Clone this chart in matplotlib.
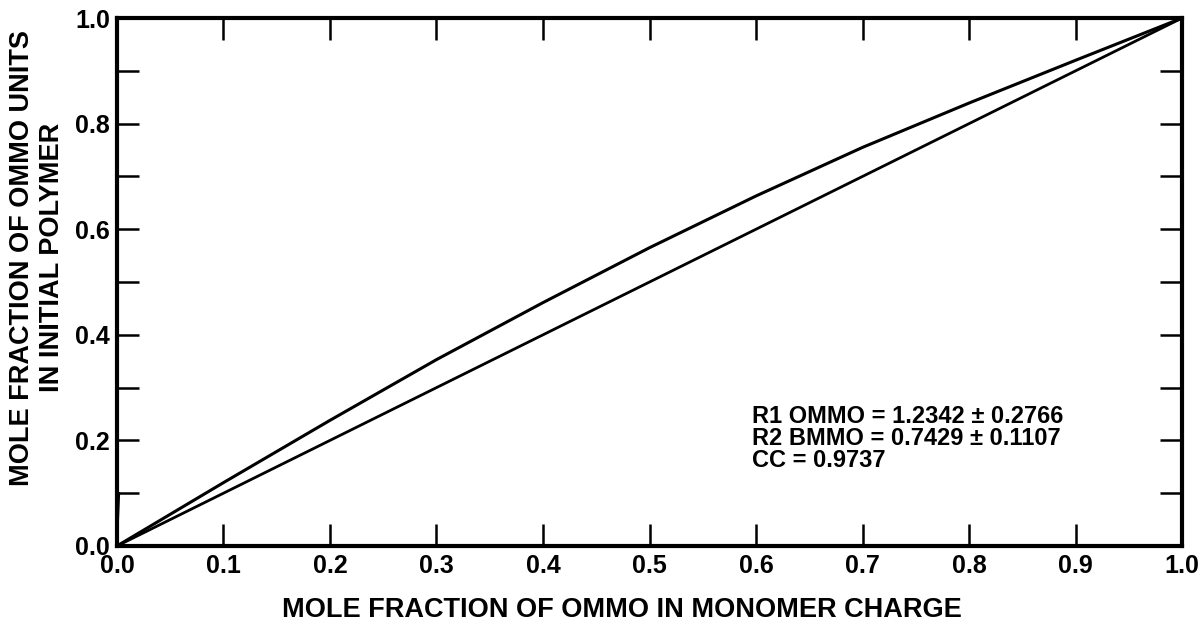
import matplotlib.pyplot as plt
import numpy as np

plt.rcParams['font.family'] = ['Liberation Sans', 'DejaVu Sans']
plt.rcParams['font.weight'] = 'bold'

# mole fraction of OMMO in monomer charge
charge = [0.0, 0.1, 0.2, 0.3, 0.4, 0.5, 0.6, 0.7, 0.8, 0.9, 1.0]
# fitted copolymer curve
polymer = [0.0, 0.12, 0.238, 0.353, 0.461, 0.565, 0.663, 0.755, 0.839, 0.92, 1.0]
# reference line (polymer = charge)
ideal_x = [0.0, 1.0]
ideal_y = [0.0, 1.0]
# small spike at the origin in the original plot
spike_x = [0.0, 0.002]
spike_y = [0.0, 0.1]

xticks = [0.0, 0.1, 0.2, 0.3, 0.4, 0.5, 0.6, 0.7, 0.8, 0.9, 1.0]
xticklabels = ['0.0', '0.1', '0.2', '0.3', '0.4', '0.5', '0.6', '0.7', '0.8', '0.9', '1.0']
yticks = [0.0, 0.2, 0.4, 0.6, 0.8, 1.0]
yticklabels = ['0.0', '0.2', '0.4', '0.6', '0.8', '1.0']
notes = ['R1 OMMO = 1.2342 \u00b1 0.2766',
         'R2 BMMO = 0.7429 \u00b1 0.1107',
         'CC = 0.9737']

fig = plt.figure(figsize=(12.02, 6.27), dpi=100)
ax = fig.add_axes([0.0973, 0.1292, 0.8861, 0.842])

ax.plot(charge, polymer, color='black', lw=2.2)
ax.plot(ideal_x, ideal_y, color='black', lw=2.0)
ax.plot(spike_x, spike_y, color='black', lw=1.5)

ax.set_xlim(0, 1)
ax.set_ylim(0, 1)
for s in ax.spines.values():
    s.set_linewidth(3)

minor = np.arange(0, 1.01, 0.1)
ax.set_xticks(xticks)
ax.set_xticklabels(xticklabels)
ax.set_yticks(minor, minor=True)
ax.set_yticks(yticks)
ax.set_yticklabels(yticklabels)
ax.tick_params(which='both', direction='in', length=16, width=1.8,
               top=True, right=True, labelsize=18, pad=6)
ax.tick_params(axis='y', pad=5)

for i, t in enumerate(notes):
    ax.text(0.596, 0.246 - i * 0.042, t, transform=ax.transAxes,
            fontsize=17, fontweight='bold', va='center', ha='left')

fig.text(0.517, 0.027, 'MOLE FRACTION OF OMMO IN MONOMER CHARGE',
         fontsize=19.5, fontweight='bold', ha='center', va='center')
fig.text(0.018, 0.589, 'MOLE FRACTION OF OMMO UNITS', rotation=90,
         fontsize=19.5, fontweight='bold', ha='center', va='center')
fig.text(0.043, 0.589, 'IN INITIAL POLYMER', rotation=90,
         fontsize=19.5, fontweight='bold', ha='center', va='center')

fig.savefig('out.png', dpi=100)
